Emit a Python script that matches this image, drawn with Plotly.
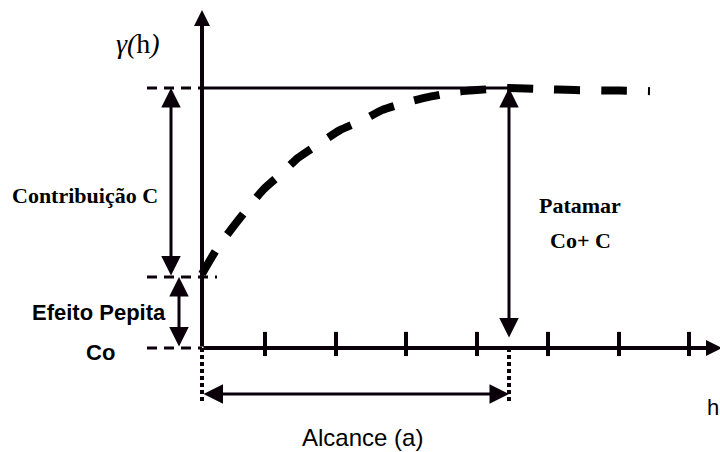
"""Variograma teorico: efeito pepita, contribuicao, patamar e alcance."""

import plotly.graph_objects as go

# ---------------------------------------------------------------------------
# Dados do esquema (h em unidades de 10 px, gamma em % do patamar)
# ---------------------------------------------------------------------------
NUGGET = 27.3          # Co
SILL = 100.0           # Co + C
RANGE_A = 30.7         # alcance (a)
H_MAX = 52.0           # ponta do eixo h
GAMMA_MAX = 130.0      # ponta do eixo gamma

TICKS_H = [6.3, 13.4, 20.4, 27.5, 34.6, 41.7, 48.7]

CURVE_H = [0, 1.6, 3.8, 6.1, 8.0, 9.6, 11.8, 13.8, 16.1, 18.0,
           20.6, 22.6, 25.4, 27.5, 30.3, 30.7, 33.8, 37.3, 41.8, 44.8]
CURVE_GAMMA = [28.5, 38.8, 50.0, 60.8, 67.3, 73.1, 78.8, 83.8, 87.7, 91.5,
               94.6, 96.5, 98.5, 99.2, 100.0, 100.0, 99.6, 99.2, 99.0, 98.8]

INK = "#0a000a"
SERIF = "Liberation Serif, Times New Roman, serif"
SANS = "Liberation Sans, Arial, sans-serif"

fig = go.Figure()

# curva tracejada do modelo
fig.add_trace(go.Scatter(
    x=CURVE_H, y=CURVE_GAMMA,
    mode="lines",
    line=dict(color="black", width=8, dash="26px,21px", shape="spline", smoothing=0.6),
    hoverinfo="skip",
))


def _seg(x0, y0, x1, y1, width, dash="solid", color=INK):
    fig.add_shape(type="line", xref="x", yref="y", x0=x0, y0=y0, x1=x1, y1=y1,
                  line=dict(color=color, width=width, dash=dash))


def _arrow(x_tail, y_tail, x_head, y_head, width, size, both=False):
    fig.add_annotation(
        x=x_head, y=y_head, ax=x_tail, ay=y_tail,
        xref="x", yref="y", axref="x", ayref="y",
        text="", showarrow=True,
        arrowhead=2, arrowsize=size, arrowwidth=width, arrowcolor=INK,
        startarrowhead=2, startarrowsize=size,
        arrowside="end+start" if both else "end",
        standoff=0, startstandoff=0,
    )


# eixos
_arrow(0, 0, 0, GAMMA_MAX, 4, 0.8)
_arrow(0, 0, H_MAX, 0, 4, 0.8)
for t in TICKS_H:
    _seg(t, -3.1, t, 6.2, 4)

# linha do patamar e tracejados de referencia
_seg(0, SILL, RANGE_A, SILL, 3)
_seg(-5.5, SILL, 0, SILL, 3, dash="10px,7px")
_seg(-5.5, NUGGET, 1.5, NUGGET, 3, dash="10px,7px")
_seg(-5.5, 0, 0, 0, 3, dash="10px,7px")

# pontilhados verticais do alcance
_seg(0, 0, 0, -20.8, 4, dash="4px,3px")
_seg(RANGE_A, 0, RANGE_A, -20.8, 4, dash="4px,3px")

# setas duplas
_arrow(-3.1, NUGGET, -3.1, SILL, 3, 1.3, both=True)      # contribuicao
_arrow(-2.3, 0, -2.3, NUGGET, 3, 1.3, both=True)         # efeito pepita
_arrow(RANGE_A, 3.5, RANGE_A, SILL, 3, 1.3, both=True)   # patamar
_arrow(0, -17.7, RANGE_A, -17.7, 3, 1.3, both=True)      # alcance

# textos
labels = [
    (-6.4, 117.0, "<i>γ(</i>h<i>)</i>", SERIF, 28, "center", "middle"),
    (-11.7, 58.8, "<b>Contribuição C</b>", SERIF, 22, "center", "middle"),
    (37.8, 55.0, "<b>Patamar</b>", SERIF, 22, "center", "middle"),
    (37.8, 41.5, "<b>Co+ C</b>", SERIF, 22, "center", "middle"),
    (-10.3, 13.8, "<b>Efeito Pepita</b>", SANS, 22, "center", "middle"),
    (-10.2, -1.9, "<b>Co</b>", SANS, 22, "center", "middle"),
    (51.8, -22.7, "h", SANS, 22, "right", "middle"),
    (16.0, -40.0, "Alcance (a)", SANS, 24, "center", "bottom"),
]
for x, y, txt, fam, size, xa, ya in labels:
    fig.add_annotation(x=x, y=y, xref="x", yref="y", text=txt, showarrow=False,
                       xanchor=xa, yanchor=ya, borderpad=0,
                       font=dict(family=fam, size=size, color="black"))

fig.update_layout(
    width=720, height=452,
    margin=dict(l=0, r=0, t=0, b=0),
    paper_bgcolor="white", plot_bgcolor="white",
    showlegend=False,
    xaxis=dict(range=[-20.2, 51.8], visible=False, fixedrange=True),
    yaxis=dict(range=[-40.0, 133.85], visible=False, fixedrange=True),
)

# sem a margem padrao do <body>, para o grafico ocupar a janela inteira
fig.write_html(
    "out.html",
    config={"displayModeBar": False},
    post_script="document.body.style.margin='0';",
)
